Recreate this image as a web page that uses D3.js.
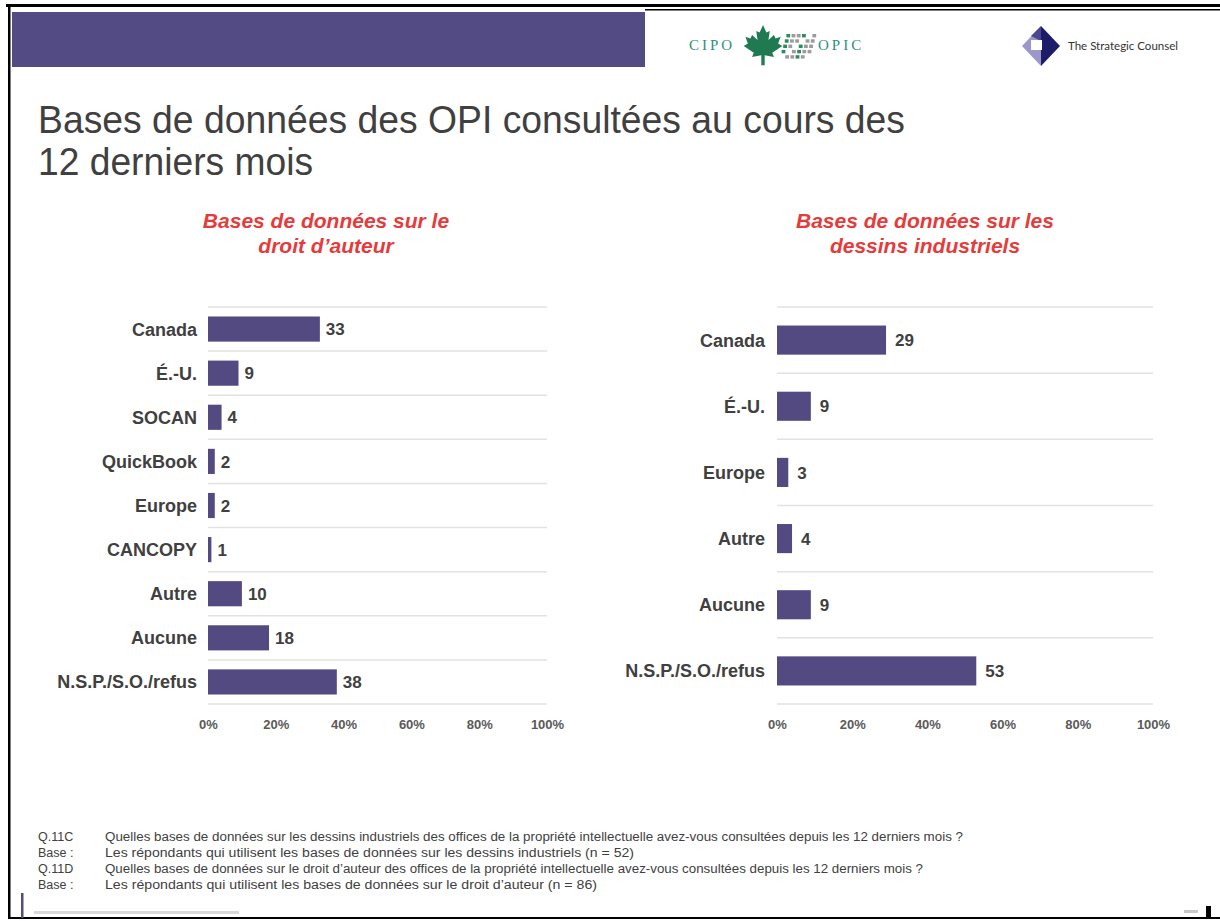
<!DOCTYPE html>
<html>
<head>
<meta charset="utf-8">
<script src="https://cdn.jsdelivr.net/npm/d3@7"></script>
<style>
  body { margin: 0; background: #fff; }
  svg { display: block; font-family: "Liberation Sans", Arial, sans-serif; }
</style>
</head>
<body>
<svg width="1220" height="921"></svg>
<script>
// data
var droitCategories = ["Canada", "É.-U.", "SOCAN", "QuickBook", "Europe", "CANCOPY", "Autre", "Aucune", "N.S.P./S.O./refus"];
var droitValues = [33, 9, 4, 2, 2, 1, 10, 18, 38];
var dessinsCategories = ["Canada", "É.-U.", "Europe", "Autre", "Aucune", "N.S.P./S.O./refus"];
var dessinsValues = [29, 9, 3, 4, 9, 53];
var xTicks = [0, 20, 40, 60, 80, 100];

var titleLines = ["Bases de données des OPI consultées au cours des", "12 derniers mois"];
var droitTitle = ["Bases de données sur le", "droit d’auteur"];
var dessinsTitle = ["Bases de données sur les", "dessins industriels"];
var noteKeys = ["Q.11C", "Base :", "Q.11D", "Base :"];
var noteTexts = [
  "Quelles bases de données sur les dessins industriels des offices de la propriété intellectuelle avez-vous consultées depuis les 12 derniers mois ?",
  "Les répondants qui utilisent les bases de données sur les dessins industriels (n = 52)",
  "Quelles bases de données sur le droit d’auteur des offices de la propriété intellectuelle avez-vous consultées depuis les 12 derniers mois ?",
  "Les répondants qui utilisent les bases de données sur le droit d’auteur (n = 86)"
];

var BAR = "#534a82";
var TXT = "#404040";
var RED = "#e63b3b";

var svg = d3.select("svg");

// ---- frame and header ----
svg.append("rect").attr("x", 6).attr("y", 4).attr("width", 1214).attr("height", 3).style("fill", "#000");
svg.append("rect").attr("x", 645).attr("y", 9).attr("width", 575).attr("height", 1.5).style("fill", "#000");
svg.append("rect").attr("x", 8).attr("y", 4).attr("width", 2.5).attr("height", 915).style("fill", "#000");
svg.append("rect").attr("x", 8).attr("y", 917).attr("width", 1212).attr("height", 2).style("fill", "#000");
svg.append("rect").attr("x", 12).attr("y", 12).attr("width", 633).attr("height", 55).style("fill", "#534b83");
svg.append("rect").attr("x", 21).attr("y", 893).attr("width", 2.5).attr("height", 25).style("fill", "#534b83");
svg.append("rect").attr("x", 34).attr("y", 911).attr("width", 205).attr("height", 3).style("fill", "#d8d8d8");
svg.append("rect").attr("x", 1184).attr("y", 910).attr("width", 14).attr("height", 3).style("fill", "#c8c8c8");
svg.append("rect").attr("x", 1206).attr("y", 906).attr("width", 5).attr("height", 12).style("fill", "#000");

// CIPO / OPIC logo
var logo = svg.append("g");
logo.append("text").attr("x", 689).attr("y", 50).text("CIPO")
  .style("font-family", "Liberation Serif, serif").style("font-size", "15px")
  .style("letter-spacing", "3px").style("fill", "#2f9080");
logo.append("text").attr("x", 818).attr("y", 50).text("OPIC")
  .style("font-family", "Liberation Serif, serif").style("font-size", "15px")
  .style("letter-spacing", "3px").style("fill", "#2f9080");
for (var r = 0; r < 5; r++) {
  for (var c = 0; c < 6; c++) {
    if ((r + c) % 5 === 4) continue;
    logo.append("rect")
      .attr("x", 780 + c * 5.2 + (4 - r) * 1.6)
      .attr("y", 34 + r * 5.3)
      .attr("width", 3.8).attr("height", 3.4)
      .style("fill", (r * 6 + c) % 3 === 0 ? "#2d8a5c" : "#9c9c9c");
  }
}
logo.append("path")
  .attr("d", "M50,0 L58,18 L66,14 L63,36 L76,24 L80,32 L92,28 L86,44 L96,50 L72,66 L76,76 L54,72 L54,96 L46,96 L46,72 L24,76 L28,66 L4,50 L14,44 L8,28 L20,32 L24,24 L37,36 L34,14 L42,18 Z")
  .attr("transform", "translate(742,25) scale(0.42)")
  .style("fill", "#1f7a52");

// Strategic Counsel logo
var sc = svg.append("g");
sc.append("path").attr("d", "M1041,26 L1060,46 L1041,66 Z").style("fill", "#1c1c68");
sc.append("path").attr("d", "M1041,26 L1022,46 L1041,66 Z").style("fill", "#9c96cc");
sc.append("path").attr("d", "M1041,26 L1031,36 L1041,41 Z").style("fill", "#4a4690");
sc.append("rect").attr("x", 1031).attr("y", 40).attr("width", 11).attr("height", 10).style("fill", "#fff");
sc.append("text").attr("x", 1068).attr("y", 50).text("The Strategic Counsel")
  .attr("textLength", 110).attr("lengthAdjust", "spacingAndGlyphs")
  .style("font-family", "Lato, sans-serif").style("font-size", "11px").style("fill", "#333");

// ---- slide title ----
svg.selectAll(".title").data(titleLines).enter().append("text")
  .attr("class", "title")
  .attr("x", 38)
  .attr("y", function(d, i) { return 133 + i * 42; })
  .attr("textLength", function(d, i) { return i === 0 ? 867 : 275; })
  .attr("lengthAdjust", "spacingAndGlyphs")
  .style("font-size", "38px").style("fill", TXT)
  .text(function(d) { return d; });

// ---- one bar chart ----
function drawChart(cats, vals, heading, opt) {
  var g = svg.append("g");
  var x = d3.scaleLinear().domain([0, 100]).range([opt.x0, opt.x1]);
  var y = d3.scaleBand().domain(cats).range([opt.y0, opt.y1])
    .paddingInner(opt.pad).paddingOuter(opt.pad / 2);
  var step = y.step();

  g.selectAll(".head").data(heading).enter().append("text")
    .attr("x", opt.headX)
    .attr("y", function(d, i) { return 228 + i * 25; })
    .attr("text-anchor", "middle")
    .style("font-size", "21px").style("font-weight", "bold").style("font-style", "italic")
    .style("fill", RED)
    .text(function(d) { return d; });

  // row separators
  g.selectAll(".grid").data(d3.range(cats.length + 1)).enter().append("line")
    .attr("x1", opt.x0).attr("x2", opt.x1)
    .attr("y1", function(i) { return opt.y0 + i * step; })
    .attr("y2", function(i) { return opt.y0 + i * step; })
    .style("stroke", "#e2e2e2").style("stroke-width", "1.5px");

  g.selectAll(".bar").data(vals).enter().append("rect")
    .attr("x", x(0))
    .attr("y", function(d, i) { return y(cats[i]); })
    .attr("width", function(d) { return x(d) - x(0); })
    .attr("height", y.bandwidth())
    .style("fill", BAR);

  g.selectAll(".val").data(vals).enter().append("text")
    .attr("x", function(d) { return x(d) + opt.valGap; })
    .attr("y", function(d, i) { return y(cats[i]) + y.bandwidth() / 2; })
    .attr("dy", "0.36em")
    .style("font-size", "17px").style("font-weight", "bold").style("fill", TXT)
    .text(function(d) { return d; });

  g.selectAll(".cat").data(cats).enter().append("text")
    .attr("x", opt.labelX)
    .attr("y", function(d) { return y(d) + y.bandwidth() / 2; })
    .attr("dy", "0.36em")
    .attr("text-anchor", "end")
    .style("font-size", "18px").style("font-weight", "bold").style("fill", TXT)
    .text(function(d) { return d; });

  var axis = g.append("g")
    .attr("transform", "translate(0," + opt.y1 + ")")
    .call(d3.axisBottom(x).tickValues(xTicks).tickSize(0).tickPadding(16)
      .tickFormat(function(d) { return d + "%"; }));
  axis.select(".domain").remove();
  axis.selectAll("text")
    .style("font-family", "Liberation Sans, Arial, sans-serif")
    .style("font-size", "13px").style("font-weight", "bold").style("fill", "#595959");
}

drawChart(droitCategories, droitValues, droitTitle,
  { x0: 208, x1: 547, y0: 307, y1: 704, pad: 0.43, labelX: 197, valGap: 6, headX: 326 });
drawChart(dessinsCategories, dessinsValues, dessinsTitle,
  { x0: 777, x1: 1153, y0: 307, y1: 704, pad: 0.56, labelX: 765, valGap: 9, headX: 925 });

// ---- footnotes ----
var noteWidths = [858, 529, 818, 492];
var notes = svg.append("g").style("font-size", "12.5px").style("fill", TXT);
noteKeys.forEach(function(k, i) {
  var yy = 841 + i * 16;
  notes.append("text").attr("x", 38).attr("y", yy).text(k);
  notes.append("text").attr("x", 105).attr("y", yy).text(noteTexts[i])
    .attr("textLength", noteWidths[i]).attr("lengthAdjust", "spacingAndGlyphs");
});
</script>
</body>
</html>
